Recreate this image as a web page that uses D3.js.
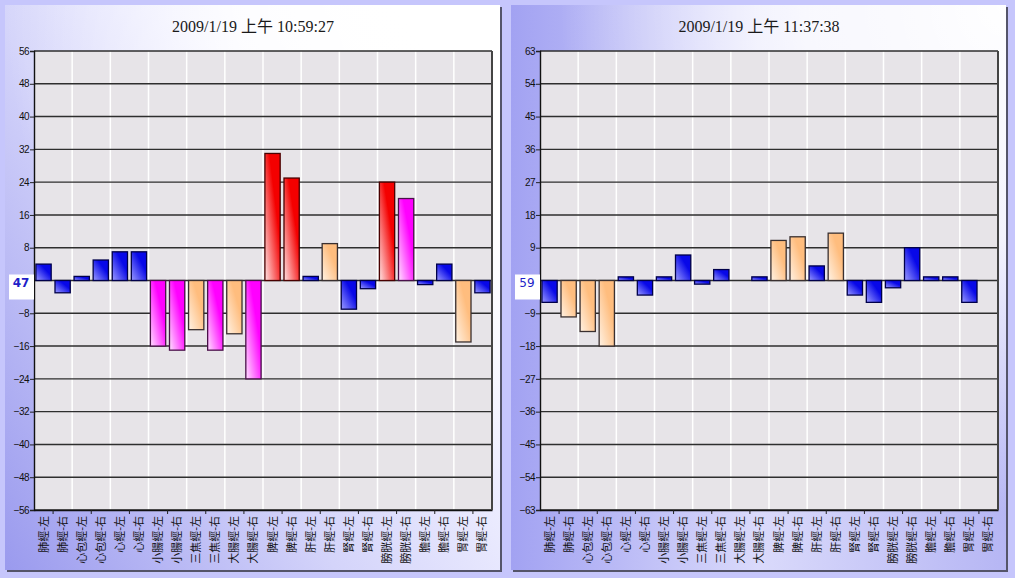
<!DOCTYPE html>
<html>
<head>
<meta charset="utf-8">
<script src="https://cdn.jsdelivr.net/npm/d3@7"></script>
<style>
  html, body { margin: 0; padding: 0; background: #c6c6fc; }
  svg { display: block; }
</style>
</head>
<body>
<svg id="chart" width="1015" height="578"></svg>
<script>
// meridian categories (shared by both charts)
const categories = [
  '肺經-左', '肺經-右', '心包經-左', '心包經-右', '心經-左', '心經-右',
  '小腸經-左', '小腸經-右', '三焦經-左', '三焦經-右', '大腸經-左', '大腸經-右',
  '脾經-左', '脾經-右', '肝經-左', '肝經-右', '腎經-左', '腎經-右',
  '膀胱經-左', '膀胱經-右', '膽經-左', '膽經-右', '胃經-左', '胃經-右'
];

// first reading
const titleA = '2009/1/19 上午 10:59:27';
const valuesA = [4, -3, 1, 5, 7, 7, -16, -17, -12, -17, -13, -24,
                 31, 25, 1, 9, -7, -2, 24, 20, -1, 4, -15, -3];
// n = normal, w = warn, h = high, x = extreme
const levelsA = ['n', 'n', 'n', 'n', 'n', 'n', 'h', 'h', 'w', 'h', 'w', 'h',
                 'x', 'x', 'n', 'w', 'n', 'n', 'x', 'h', 'n', 'n', 'w', 'n'];
const yTicksA = [56, 48, 40, 32, 24, 16, 8, -8, -16, -24, -32, -40, -48, -56];
const markerA = '47';

// second reading
const titleB = '2009/1/19 上午 11:37:38';
const valuesB = [-6, -10, -14, -18, 1, -4, 1, 7, -1, 3, 0, 1,
                 11, 12, 4, 13, -4, -6, -2, 9, 1, 1, -6, 0];
const levelsB = ['n', 'w', 'w', 'w', 'n', 'n', 'n', 'n', 'n', 'n', 'n', 'n',
                 'w', 'w', 'n', 'w', 'n', 'n', 'n', 'n', 'n', 'n', 'n', 'n'];
const yTicksB = [63, 54, 45, 36, 27, 18, 9, -9, -18, -27, -36, -45, -54, -63];
const markerB = '59';

const svg = d3.select('#chart');
const defs = svg.append('defs');

// bar fills: saturated at top-right, fading to bottom-left
const barStyles = {
  n: { from: '#0808e8', to: '#9a9aff', stroke: '#00004a' },
  w: { from: '#ffbd7e', to: '#fff2e4', stroke: '#3a3030' },
  h: { from: '#ff00ff', to: '#ffe0ff', stroke: '#4a104a' },
  x: { from: '#f40000', to: '#ffe4e4', stroke: '#4a0000' }
};

Object.entries(barStyles).forEach(([key, s]) => {
  const grad = defs.append('linearGradient')
    .attr('id', `bar-${key}`)
    .attr('x1', 1).attr('y1', 0)
    .attr('x2', 0).attr('y2', 1);
  grad.append('stop').attr('offset', 0).attr('stop-color', s.from);
  grad.append('stop').attr('offset', 0.35).attr('stop-color', s.from);
  grad.append('stop').attr('offset', 1).attr('stop-color', s.to);
});

// panel background: a base linear wash plus a white glow at the top right
function panelGradient(id, dir, stops) {
  const grad = defs.append('linearGradient')
    .attr('id', id)
    .attr('x1', dir[0]).attr('y1', dir[1])
    .attr('x2', dir[2]).attr('y2', dir[3]);
  stops.forEach(([o, c]) => grad.append('stop').attr('offset', o).attr('stop-color', c));
}
function glowGradient(id, cx, cy, r) {
  const grad = defs.append('radialGradient')
    .attr('id', id)
    .attr('cx', cx).attr('cy', cy).attr('r', r)
    .attr('fx', cx).attr('fy', cy);
  grad.append('stop').attr('offset', 0).attr('stop-color', '#ffffff').attr('stop-opacity', 1);
  grad.append('stop').attr('offset', 0.45).attr('stop-color', '#ffffff').attr('stop-opacity', 0.85);
  grad.append('stop').attr('offset', 1).attr('stop-color', '#ffffff').attr('stop-opacity', 0);
}
panelGradient('panel-a', [0, 1, 1, 0.3],
  [[0, '#9a9aee'], [0.45, '#d4d4fa'], [0.75, '#eeeeff'], [1, '#ffffff']]);
panelGradient('panel-b', [0, 0.5, 1, 0.5],
  [[0, '#a2a2f2'], [0.5, '#dadafb'], [1, '#b6b6f4']]);
glowGradient('glow-a', 0.85, 0, 0.85);
glowGradient('glow-b', 1, 0, 0.9);

function drawPanel(opts) {
  const { x0, title, values, levels, yTicks, marker, markerBold, gradId, glowId } = opts;
  const panelW = 495;
  const panelH = 565;
  const margin = { left: 29, right: 8, top: 46, bottom: 60 };
  const plotW = 458;
  const plotH = 459;

  const panel = svg.append('g').attr('transform', `translate(${x0},5)`);

  // shadow border on right/bottom
  panel.append('rect')
    .attr('x', 2).attr('y', 2)
    .attr('width', panelW).attr('height', panelH)
    .attr('fill', '#55556a');
  panel.append('rect')
    .attr('width', panelW).attr('height', panelH)
    .attr('fill', `url(#${gradId})`);
  panel.append('rect')
    .attr('width', panelW).attr('height', panelH)
    .attr('fill', `url(#${glowId})`);

  panel.append('text')
    .attr('x', margin.left + plotW / 2 - 10)
    .attr('y', 27)
    .attr('text-anchor', 'middle')
    .style('font-family', "'Liberation Serif', 'Noto Sans CJK TC', serif")
    .style('font-size', '16px')
    .style('fill', '#1a1a1a')
    .text(title);

  const g = panel.append('g')
    .attr('transform', `translate(${margin.left},${margin.top})`);

  const yMax = yTicks[0];
  const y = d3.scaleLinear().domain([-yMax, yMax]).range([plotH, 0]);
  const x = d3.scaleBand()
    .domain(categories)
    .range([0, plotW])
    .paddingInner(0.2)
    .paddingOuter(0.1);
  const step = x.step();
  const edge = c => x(c) - step * 0.1;

  g.append('rect')
    .attr('width', plotW).attr('height', plotH)
    .attr('fill', '#e7e4e8');

  // white vertical grid every two categories
  g.selectAll('.vgrid')
    .data(categories.filter((c, i) => i % 2 === 0 && i > 0))
    .enter().append('line')
    .attr('class', 'vgrid')
    .attr('x1', edge).attr('x2', edge)
    .attr('y1', 0).attr('y2', plotH)
    .attr('stroke', '#ffffff')
    .attr('stroke-width', 1.5);

  // horizontal grid lines
  g.selectAll('.hgrid')
    .data(yTicks.concat([0]))
    .enter().append('line')
    .attr('class', 'hgrid')
    .attr('x1', 0).attr('x2', plotW)
    .attr('y1', d => y(d)).attr('y2', d => y(d))
    .attr('stroke', '#2e2e2e')
    .attr('stroke-width', 1.4);

  // bars
  g.selectAll('.bar')
    .data(values.map((v, i) => ({ cat: categories[i], value: v, level: levels[i] })))
    .enter().append('rect')
    .attr('class', 'bar')
    .attr('x', d => x(d.cat))
    .attr('y', d => y(Math.max(0, d.value)))
    .attr('width', x.bandwidth())
    .attr('height', d => Math.abs(y(d.value) - y(0)))
    .attr('fill', d => `url(#bar-${d.level})`)
    .attr('stroke', d => barStyles[d.level].stroke)
    .attr('stroke-width', d => d.value === 0 ? 0 : 1.3);

  // y axis
  const yAxis = d3.axisLeft(y)
    .tickValues(yTicks)
    .tickSize(4)
    .tickPadding(1)
    .tickFormat(d3.format('d'));
  const yAxisG = g.append('g').call(yAxis);
  yAxisG.select('.domain').attr('stroke', '#111').attr('stroke-width', 1.4);
  yAxisG.selectAll('.tick line').attr('stroke', '#222');
  yAxisG.selectAll('text')
    .style('font-family', "'Liberation Sans', Arial, sans-serif")
    .style('font-size', '10px')
    .style('letter-spacing', '-0.6px')
    .style('fill', '#111');

  // x axis
  const xAxis = d3.axisBottom(x)
    .tickSize(0)
    .tickPadding(6);
  const xAxisG = g.append('g')
    .attr('transform', `translate(0,${plotH})`)
    .call(xAxis);
  xAxisG.select('.domain').attr('stroke', '#111').attr('stroke-width', 1.4);
  xAxisG.selectAll('text')
    .attr('transform', 'rotate(-90)')
    .attr('x', -6)
    .attr('y', 0)
    .attr('dy', '0.36em')
    .style('text-anchor', 'end')
    .style('font-family', "'Noto Sans CJK TC', sans-serif")
    .style('font-size', '11px')
    .style('fill', '#111');

  // small ticks on odd category boundaries
  g.selectAll('.xtick')
    .data(categories.filter((c, i) => i % 2 === 1))
    .enter().append('line')
    .attr('class', 'xtick')
    .attr('x1', edge).attr('x2', edge)
    .attr('y1', plotH).attr('y2', plotH + 4)
    .attr('stroke', '#222');

  // right border of the plot
  g.append('line')
    .attr('x1', plotW).attr('x2', plotW)
    .attr('y1', 0).attr('y2', plotH)
    .attr('stroke', '#444')
    .attr('stroke-width', 2);

  // zero marker label
  g.append('rect')
    .attr('x', -25).attr('y', y(0) - 6)
    .attr('width', 25).attr('height', 25)
    .attr('fill', '#ffffff');
  g.append('text')
    .attr('x', -13).attr('y', y(0) + 6)
    .attr('text-anchor', 'middle')
    .style('font-family', "'DejaVu Sans', sans-serif")
    .style('font-size', '12px')
    .style('font-weight', markerBold ? 'bold' : 'normal')
    .style('fill', '#1f1fc8')
    .text(marker);
}

drawPanel({ x0: 5, title: titleA, values: valuesA, levels: levelsA,
            yTicks: yTicksA, marker: markerA, markerBold: true,
            gradId: 'panel-a', glowId: 'glow-a' });
drawPanel({ x0: 511, title: titleB, values: valuesB, levels: levelsB,
            yTicks: yTicksB, marker: markerB, markerBold: false,
            gradId: 'panel-b', glowId: 'glow-b' });
</script>
</body>
</html>
